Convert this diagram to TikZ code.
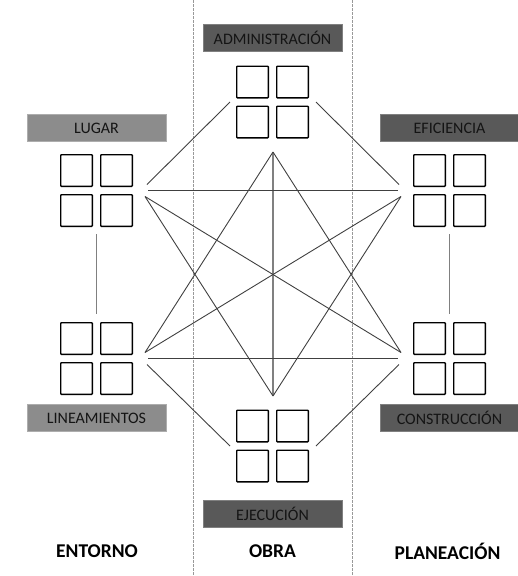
\documentclass[tikz,border=0pt]{standalone}
\usepackage{fontspec}
\setmainfont{Carlito}
\usetikzlibrary{positioning}
\tikzset{
  cuadro/.style  = {draw=black, line width=1.4pt, fill=white,
                    rounded corners=0.8pt, minimum size=31.6pt, inner sep=0pt},
  grupo/.style   = {minimum size=73pt, inner sep=0pt},
  etiq/.style    = {minimum width=139pt, minimum height=27pt, inner sep=0pt,
                    line width=0.8pt, text=black!92,
                    font=\fontsize{16}{19}\selectfont},
  claro/.style   = {etiq, fill=black!45, draw=black!32},
  oscuro/.style  = {etiq, fill=black!65, draw=black!50},
  eje/.style     = {font=\bfseries\fontsize{19.5}{23}\selectfont, inner sep=0pt},
  enlace/.style  = {draw=black!75, line width=0.9pt},
  vertical/.style= {draw=black!50, line width=1.2pt},
  franja/.style  = {draw=black!40, line width=1pt, dash pattern=on 2.5pt off 1.5pt},
}

\begin{document}
\begin{tikzpicture}[x=1pt, y=-1pt]
  \useasboundingbox (0,0) rectangle (518,576);

  % ---------- franjas ------------------------------------------------
  \coordinate (f1a) at (193,0);   \coordinate (f1b) at (193,576);
  \coordinate (f2a) at (352,0);   \coordinate (f2b) at (352,576);
  \draw[franja] (f1a) -- (f1b);
  \draw[franja] (f2a) -- (f2b);

  % ---------- grupos de cuadros --------------------------------------
  \node[grupo] (adm) at (272.5,102)   {};
  \node[grupo] (lug) at (96.5,190.5)  {};
  \node[grupo] (efi) at (449.5,190.5) {};
  \node[grupo] (lin) at (96.5,358.5)  {};
  \node[grupo] (con) at (449.5,358.5) {};
  \node[grupo] (eje) at (272.5,446)   {};
  \foreach \g in {adm,lug,efi,lin,con,eje} {
    \foreach \dx/\dy/\i in {-20/-20/1, 20/-20/2, -20/20/3, 20/20/4} {
      \node[cuadro] (\g-\i) at ([shift={(\dx,\dy)}]\g.center) {};
    }
  }

  % ---------- etiquetas ----------------------------------------------
  \node[oscuro, above=14pt of adm] (tadm) {ADMINISTRACIÓN};
  \node[claro,  above=12pt of lug] (tlug) {LUGAR};
  \node[oscuro, above=12pt of efi] (tefi) {EFICIENCIA};
  \node[claro,  below=9pt of lin]  (tlin) {LINEAMIENTOS};
  \node[oscuro, below=9pt of con]  (tcon) {CONSTRUCCIÓN};
  \node[oscuro, below=17pt of eje] (teje) {EJECUCIÓN};

  % ---------- ejes inferiores ----------------------------------------
  \node[eje] (entorno)   at (97,551)    {ENTORNO};
  \node[eje] (obra)      at (272.5,551) {OBRA};
  \node[eje] (planeacion) at (447.5,551) {PLANEACIÓN};

  % ---------- puntos de enlace ---------------------------------------
  % o = hacia el vecino, m = horizontal, i = cruce
  \coordinate (lug-o) at ([shift={(50.5,-6)}]lug.center);
  \coordinate (lug-m) at ([shift={(51.5,0)}]lug.center);
  \coordinate (lug-i) at ([shift={(48.5,6)}]lug.center);
  \coordinate (lug-v) at ([shift={(0,43.5)}]lug.center);
  \coordinate (lin-o) at ([shift={(50.5,6)}]lin.center);
  \coordinate (lin-m) at ([shift={(51.5,0)}]lin.center);
  \coordinate (lin-i) at ([shift={(48.5,-6)}]lin.center);
  \coordinate (lin-v) at ([shift={(0,-44.5)}]lin.center);
  \coordinate (efi-o) at ([shift={(-50.5,-6)}]efi.center);
  \coordinate (efi-m) at ([shift={(-51.5,0)}]efi.center);
  \coordinate (efi-i) at ([shift={(-48.5,6)}]efi.center);
  \coordinate (efi-v) at ([shift={(0,43.5)}]efi.center);
  \coordinate (con-o) at ([shift={(-50.5,6)}]con.center);
  \coordinate (con-m) at ([shift={(-51.5,0)}]con.center);
  \coordinate (con-i) at ([shift={(-48.5,-6)}]con.center);
  \coordinate (con-v) at ([shift={(0,-44.5)}]con.center);
  \coordinate (adm-l) at ([shift={(-42.5,0)}]adm.center);
  \coordinate (adm-r) at ([shift={(43.5,0)}]adm.center);
  \coordinate (adm-b) at ([shift={(0.5,50)}]adm.center);
  \coordinate (eje-l) at ([shift={(-42.5,0)}]eje.center);
  \coordinate (eje-r) at ([shift={(43.5,0)}]eje.center);
  \coordinate (eje-t) at ([shift={(0.5,-50)}]eje.center);

  % ---------- enlaces ------------------------------------------------
  \draw[vertical] (lug-v) -- (lin-v);
  \draw[vertical] (efi-v) -- (con-v);
  \draw[vertical] (adm-b) -- (eje-t);
  \draw[enlace] (adm-l) -- (lug-o);
  \draw[enlace] (adm-r) -- (efi-o);
  \draw[enlace] (eje-l) -- (lin-o);
  \draw[enlace] (eje-r) -- (con-o);
  \draw[enlace] (lug-m) -- (efi-m);
  \draw[enlace] (lin-m) -- (con-m);
  \draw[enlace] (adm-b) -- (lin-i);
  \draw[enlace] (adm-b) -- (con-i);
  \draw[enlace] (eje-t) -- (lug-i);
  \draw[enlace] (eje-t) -- (efi-i);
  \draw[enlace] (lug-i) -- (con-i);
  \draw[enlace] (lin-i) -- (efi-i);
\end{tikzpicture}
\end{document}
